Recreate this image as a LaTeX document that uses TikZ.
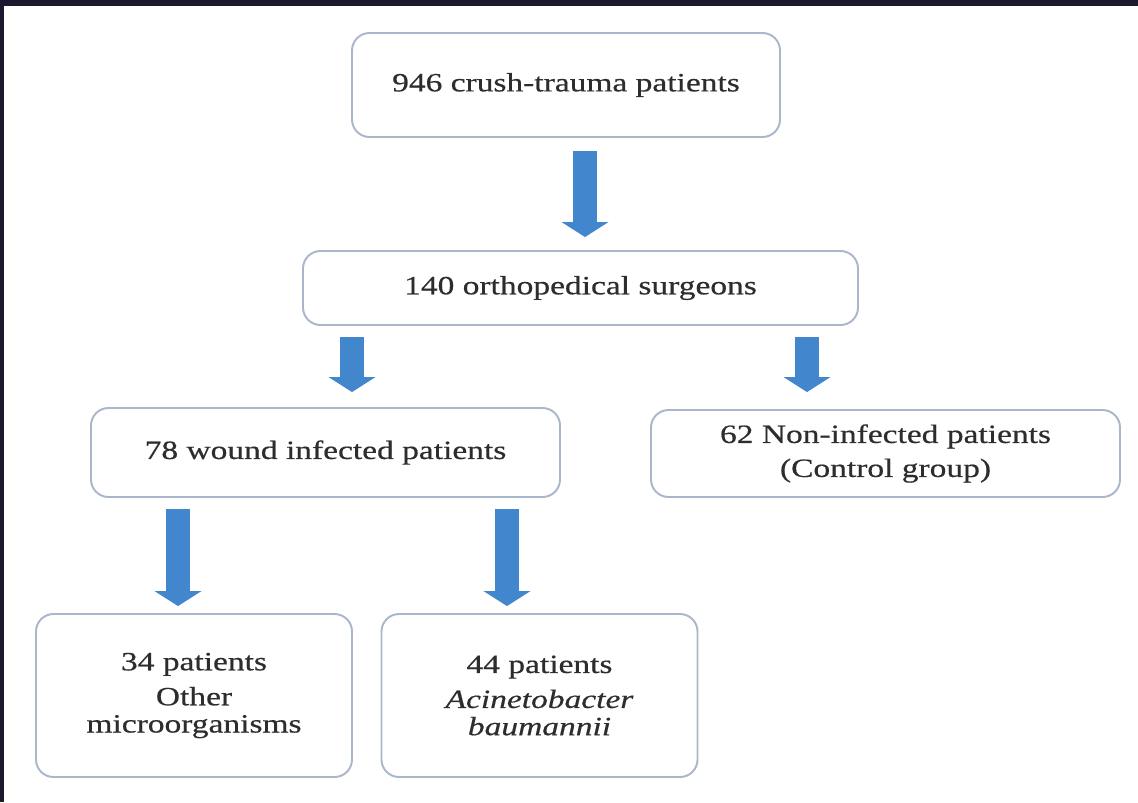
\documentclass[tikz,border=0pt]{standalone}
\usepackage{fontspec}
\setmainfont{Liberation Serif}[FakeStretch=1.27,FakeBold=0.5]
\usetikzlibrary{arrows.meta}

\definecolor{boxline}{RGB}{170,182,202}
\definecolor{flowblue}{RGB}{66,134,206}
\definecolor{textgrey}{RGB}{45,45,45}
\definecolor{frameband}{RGB}{27,25,46}

\tikzset{
    stagebox/.style={draw=boxline, line width=1.1pt, rounded corners=0.35cm, fill=white,
        align=center, text=textgrey, inner sep=0pt,
        font=\fontsize{15}{15.5}\selectfont},
    flowarrow/.style={draw=flowblue, line width=0.48cm,
        -{Triangle[length=0.3cm 0 0, width=0.94cm 0 0, line width=0pt 0 0, fill=flowblue]}}
}

\begin{document}
\begin{tikzpicture}
            \fill[white] (0,0) rectangle (22.76,-16.04);
            \fill[frameband] (0,0) rectangle (22.76,-0.12);
            \fill[frameband] (0,0) rectangle (0.08,-16.04);

            \node[stagebox, minimum width=8.56cm, minimum height=2.08cm] (crush) at (11.32,-1.70) {946 crush-trauma patients};
            \node[stagebox, minimum width=11.1cm, minimum height=1.48cm] (surgeons) at (11.61,-5.76) {140 orthopedical surgeons};
            \node[stagebox, minimum width=9.38cm, minimum height=1.78cm] (infected) at (6.51,-9.05) {78 wound infected patients};
            \node[stagebox, minimum width=9.38cm, minimum height=1.74cm] (control) at (17.71,-9.07) {62 Non-infected patients\\[0.135cm](Control group)};
            \node[stagebox, minimum width=6.32cm, minimum height=3.26cm] (others) at (3.88,-13.91) {34 patients\\[0.155cm]Other\\microorganisms};
            \node[stagebox, minimum width=6.32cm, minimum height=3.26cm] (acineto) at (10.79,-13.91) {44 patients\\[0.155cm]\textit{Acinetobacter}\\\textit{baumannii}};

            \draw[flowarrow, shorten <=0.26cm, shorten >=0.26cm] ([xshift=0.38cm]crush.south) -- ([xshift=0.38cm]crush.south |- surgeons.north);
            \draw[flowarrow, shorten <=0.22cm, shorten >=0.3cm] ([xshift=-4.57cm]surgeons.south) -- ([xshift=-4.57cm]surgeons.south |- infected.north);
            \draw[flowarrow, shorten <=0.22cm, shorten >=0.34cm] ([xshift=4.53cm]surgeons.south) -- ([xshift=4.53cm]surgeons.south |- control.north);
            \draw[flowarrow, shorten <=0.22cm, shorten >=0.14cm] ([xshift=-2.95cm]infected.south) -- ([xshift=-2.95cm]infected.south |- others.north);
            \draw[flowarrow, shorten <=0.22cm, shorten >=0.14cm] ([xshift=3.63cm]infected.south) -- ([xshift=3.63cm]infected.south |- acineto.north);
        \end{tikzpicture}
\end{document}
